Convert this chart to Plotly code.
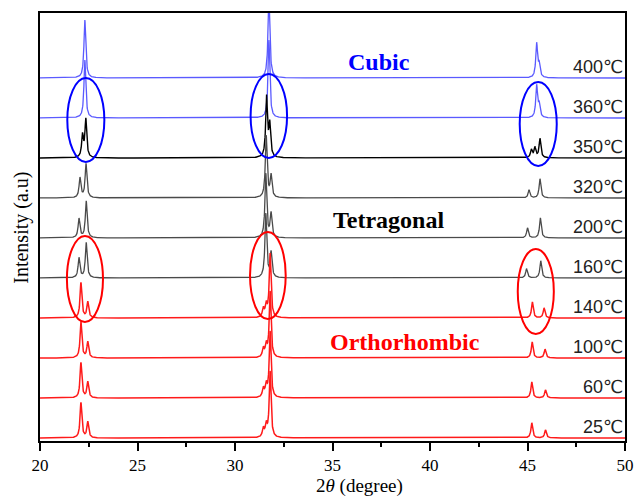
import numpy as np
import plotly.graph_objects as go

# ---- data ----
temps = ["25℃", "60℃", "100℃", "140℃", "160℃", "200℃", "320℃", "350℃", "360℃", "400℃"]
offsets = [0, 1, 2, 3, 4, 5, 6, 7, 8, 9]
colors = ["#ff1a1a", "#ff1a1a", "#ff1a1a", "#ff1a1a",
          "#4a4a4a", "#4a4a4a", "#4a4a4a", "#000000",
          "#5a5aff", "#5a5aff"]
widths = [1.5, 1.5, 1.5, 1.5, 1.3, 1.3, 1.3, 1.4, 1.3, 1.3]

# peak positions (2θ) and heights (in stack units) for each pattern
peak_pos = {
    "25℃":  [22.10, 22.45, 31.45, 31.60, 31.80, 45.22, 45.92],
    "60℃":  [22.10, 22.45, 31.45, 31.60, 31.80, 45.22, 45.92],
    "100℃": [22.10, 22.45, 31.45, 31.60, 31.80, 45.24, 45.90],
    "140℃": [22.10, 22.45, 31.45, 31.60, 31.80, 45.25, 45.85],
    "160℃": [22.00, 22.37, 31.58, 31.85, 44.95, 45.68],
    "200℃": [22.00, 22.37, 31.58, 31.85, 45.00, 45.66],
    "320℃": [22.05, 22.36, 31.60, 31.85, 45.08, 45.64],
    "350℃": [22.18, 22.35, 31.62, 31.78, 45.20, 45.38, 45.64],
    "360℃": [22.30, 31.74, 45.47, 45.60],
    "400℃": [22.30, 31.74, 45.47, 45.60],
}
peak_h = {
    "25℃":  [0.88, 0.40, 0.22, 0.30, 1.65, 0.38, 0.20],
    "60℃":  [0.88, 0.40, 0.22, 0.30, 1.65, 0.40, 0.20],
    "100℃": [0.90, 0.40, 0.22, 0.30, 1.65, 0.40, 0.22],
    "140℃": [0.88, 0.40, 0.22, 0.30, 1.60, 0.40, 0.25],
    "160℃": [0.50, 0.88, 1.60, 0.63, 0.23, 0.43],
    "200℃": [0.48, 0.92, 1.60, 0.60, 0.25, 0.50],
    "320℃": [0.50, 0.85, 1.55, 0.55, 0.20, 0.48],
    "350℃": [0.55, 0.95, 1.50, 0.80, 0.20, 0.25, 0.48],
    "360℃": [1.45, 1.95, 0.80, 0.30],
    "400℃": [1.45, 2.10, 0.85, 0.30],
}
peak_w = 0.055  # half width at half maximum (deg)

x_grid = np.arange(20.0, 50.0001, 0.01)

fig = go.Figure()
for name, off, col, lw in reversed(list(zip(temps, offsets, colors, widths))):
    y = np.full_like(x_grid, float(off))
    for p, h in zip(peak_pos[name], peak_h[name]):
        y += h * peak_w**2 / ((x_grid - p) ** 2 + peak_w**2)
    fig.add_trace(go.Scatter(x=x_grid, y=y, mode="lines",
                             line=dict(color=col, width=lw),
                             showlegend=False, hoverinfo="skip"))
    fig.add_annotation(x=50, y=off + 0.27, xref="x", yref="y", text=name,
                       showarrow=False, xanchor="right", yanchor="middle",
                       font=dict(family="Liberation Sans, DejaVu Sans", size=18, color="#222222"))

# phase ellipses: (x0, x1, y0, y1, colour)
ellipses = [
    (21.40, 23.30, 6.90, 9.00, "#0000ff"),
    (30.80, 32.67, 7.00, 9.10, "#0000ff"),
    (44.60, 46.50, 6.80, 8.90, "#0000ff"),
    (21.38, 23.23, 2.90, 5.05, "#ff0000"),
    (30.77, 32.60, 2.975, 5.15, "#ff0000"),
    (44.50, 46.35, 2.60, 4.725, "#ff0000"),
]
for x0, x1, y0, y1, c in ellipses:
    fig.add_shape(type="circle", xref="x", yref="y", x0=x0, x1=x1, y0=y0, y1=y1,
                  line=dict(color=c, width=2))

phases = [("Cubic", 37.40, 9.40, "#0000ff"),
          ("Tetragonal", 37.85, 5.45, "#000000"),
          ("Orthorhombic", 38.70, 2.40, "#ff0000")]
for txt, px, py, c in phases:
    fig.add_annotation(x=px, y=py, xref="x", yref="y", text="<b>" + txt + "</b>",
                       showarrow=False, font=dict(family="Liberation Serif", size=24, color=c))

fig.add_annotation(x=-0.031, y=0.498, xref="paper", yref="paper", text="Intensity (a.u)",
                   textangle=-90, showarrow=False, xanchor="center", yanchor="middle",
                   font=dict(family="Liberation Serif", size=20, color="black"))
fig.add_annotation(x=0.547, y=-0.105, xref="paper", yref="paper",
                   text="2<i>θ</i> (degree)", showarrow=False, xanchor="center", yanchor="middle",
                   font=dict(family="Liberation Serif", size=19, color="black"))

fig.update_xaxes(range=[20, 50], tickmode="array", tickvals=[20, 25, 30, 35, 40, 45, 50],
                 ticks="outside", ticklen=8, tickwidth=1.5, tickcolor="black",
                 minor=dict(tickvals=[22.5, 27.5, 32.5, 37.5, 42.5, 47.5], ticks="outside",
                            ticklen=4, tickwidth=1.5, tickcolor="black"),
                 showline=True, linecolor="black", linewidth=1.5, mirror=True,
                 showgrid=False, zeroline=False, automargin=False,
                 tickfont=dict(family="Liberation Serif", size=17, color="black"))
fig.update_yaxes(range=[-0.075, 10.625], showticklabels=False, ticks="",
                 showline=True, linecolor="black", linewidth=1.5, mirror=True,
                 showgrid=False, zeroline=False, automargin=False)
fig.update_layout(width=635, height=496, margin=dict(l=40, r=10, t=13, b=55),
                  plot_bgcolor="white", paper_bgcolor="white")

fig.write_html("out.html")
